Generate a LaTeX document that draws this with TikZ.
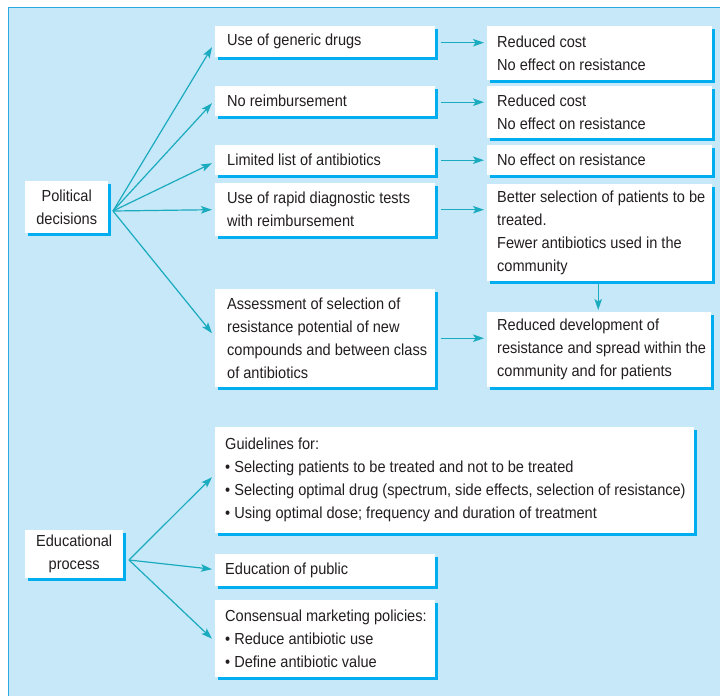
\documentclass[tikz,border=0pt]{standalone}
\usepackage{fontspec}
\setmainfont[FakeStretch=0.91]{Liberation Sans}
\usetikzlibrary{arrows.meta,shadows,calc}
\definecolor{panelbg}{HTML}{C6E8F8}
\definecolor{panelline}{HTML}{2AA8E0}
\definecolor{shadowc}{HTML}{00AEEF}
\definecolor{arrowc}{HTML}{1AABBF}
\definecolor{textc}{HTML}{231F20}
\tikzset{
  bx/.style={fill=white, anchor=north west, inner sep=0pt,
    drop shadow={shadow xshift=3pt, shadow yshift=-3pt, fill=shadowc, opacity=1}},
  tx/.style={anchor=west, inner sep=0pt, align=left, text=textc,
    font=\fontsize{16}{23}\selectfont},
  ctx/.style={inner sep=0pt, align=center, text=textc,
    font=\fontsize{16}{23}\selectfont},
  arr/.style={draw=arrowc, line width=1.2pt, -{Stealth[length=11pt,width=7.5pt,inset=2.5pt]}},
}
\begin{document}
\begin{tikzpicture}[x=1pt,y=-1pt]
\useasboundingbox (0,0) rectangle (720,696);
\fill[panelbg] (8,7) rectangle (720,696);
\draw[panelline, line width=1pt] (8,696) -- (8,7) -- (720,7);

% political
\node[bx, minimum width=83pt, minimum height=52pt] (pol) at (25,181) {};
\node[ctx] (polt) at (pol.center) {Political\\decisions};
\node[bx, minimum width=220pt, minimum height=31pt] (b1) at (215,26) {};
\node[tx] (b1t) at ([xshift=12pt]b1.west) {Use of generic drugs};
\node[bx, minimum width=225pt, minimum height=54pt] (r1) at (487,26) {};
\node[tx] (r1t) at ([xshift=10pt]r1.west) {Reduced cost\\No effect on resistance};
\node[bx, minimum width=220pt, minimum height=30pt] (b2) at (215,86) {};
\node[tx] (b2t) at ([xshift=12pt]b2.west) {No reimbursement};
\node[bx, minimum width=225pt, minimum height=52pt] (r2) at (487,86) {};
\node[tx] (r2t) at ([xshift=10pt]r2.west) {Reduced cost\\No effect on resistance};
\node[bx, minimum width=220pt, minimum height=30pt] (b3) at (215,145) {};
\node[tx] (b3t) at ([xshift=12pt]b3.west) {Limited list of antibiotics};
\node[bx, minimum width=225pt, minimum height=30pt] (r3) at (487,145) {};
\node[tx] (r3t) at ([xshift=10pt]r3.west) {No effect on resistance};
\node[bx, minimum width=220pt, minimum height=53pt] (b4) at (215,183) {};
\node[tx] (b4t) at ([xshift=12pt]b4.west) {Use of rapid diagnostic tests\\with reimbursement};
\node[bx, minimum width=225pt, minimum height=97pt] (r4) at (487,184) {};
\node[tx] (r4t) at ([xshift=10pt]r4.west) {Better selection of patients to be\\treated.\\Fewer antibiotics used in the\\community};
\node[bx, minimum width=220pt, minimum height=98pt] (b5) at (215,289) {};
\node[tx] (b5t) at ([xshift=12pt]b5.west) {Assessment of selection of\\resistance potential of new\\compounds and between class\\of antibiotics};
\node[bx, minimum width=224pt, minimum height=75pt] (r5) at (487,312) {};
\node[tx] (r5t) at ([xshift=10pt]r5.west) {Reduced development of\\resistance and spread within the\\community and for patients};

% educational
\node[bx, minimum width=98pt, minimum height=48pt] (edu) at (25,530) {};
\node[ctx] (edut) at (edu.center) {Educational\\process};
\node[bx, minimum width=479pt, minimum height=106pt] (g) at (215,427) {};
\node[tx] (gt) at ([xshift=10pt]g.west) {Guidelines for:\\
\textbullet\ Selecting patients to be treated and not to be treated\\
\textbullet\ Selecting optimal drug (spectrum, side effects, selection of resistance)\\
\textbullet\ Using optimal dose; frequency and duration of treatment};
\node[bx, minimum width=220pt, minimum height=32pt] (e2) at (215,554) {};
\node[tx] (e2t) at ([xshift=10pt]e2.west) {Education of public};
\node[bx, minimum width=220pt, minimum height=77pt] (c) at (215,600) {};
\node[tx] (ct) at ([xshift=10pt]c.west) {Consensual marketing policies:\\
\textbullet\ Reduce antibiotic use\\
\textbullet\ Define antibiotic value};

% connectors
\coordinate (ps) at (113,211);
\draw[arr] (ps) -- ($(b1.west)+(-3,5.5)$);
\draw[arr] (ps) -- ($(b2.west)+(-3,2)$);
\draw[arr] (ps) -- ($(b3.west)+(-3,3)$);
\draw[arr] (ps) -- ($(b4.west)+(-3,0)$);
\draw[arr] (ps) -- ($(b5.west)+(-3,-5)$);

\draw[arr, shorten <=6pt, shorten >=3pt] ([yshift=-1pt]b1.east) -- ([yshift=-1pt]b1.east -| r1.west);
\draw[arr, shorten <=6pt, shorten >=3pt] ([yshift=-1pt]b2.east) -- ([yshift=-1pt]b2.east -| r2.west);
\draw[arr, shorten <=6pt, shorten >=3pt] (b3.east) -- (b3.east -| r3.west);
\draw[arr, shorten <=6pt, shorten >=3pt] (b4.east) -- (b4.east -| r4.west);
\draw[arr, shorten <=6pt, shorten >=3pt] (b5.east) -- (b5.east -| r5.west);
\draw[arr, shorten <=3pt, shorten >=2pt] ([xshift=-1.5pt]r4.south) -- ([xshift=-1.5pt]r4.south |- r5.north);

\coordinate (es) at (129,560);
\draw[arr] (es) -- ($(g.west)+(-3,-3)$);
\draw[arr] (es) -- ($(e2.west)+(-3,-1)$);
\draw[arr] (es) -- ($(c.west)+(-3,0)$);
\end{tikzpicture}
\end{document}
